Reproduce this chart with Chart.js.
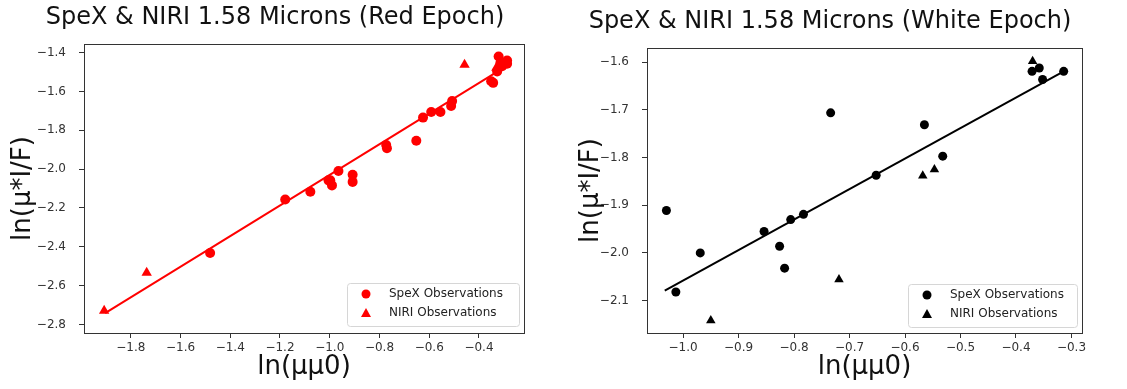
<!DOCTYPE html>
<html>
<head>
<meta charset="utf-8">
<script src="https://cdn.jsdelivr.net/npm/chart.js@4.4.0/dist/chart.umd.min.js"></script>
<style>
  html, body { margin: 0; padding: 0; background: #fff; }
  canvas { position: absolute; top: 0; }
</style>
</head>
<body>
<canvas id="redChart" width="563" height="389" style="left:0"></canvas>
<canvas id="whiteChart" width="564" height="389" style="left:563px"></canvas>
<script>
// red epoch
const redSpexX = [-1.481, -1.179, -1.078, -1.005, -0.998, -0.991, -0.965, -0.908, -0.908, -0.773, -0.770, -0.652, -0.625, -0.592, -0.555, -0.512, -0.508, -0.351, -0.343, -0.327, -0.321, -0.314, -0.307, -0.287, -0.287]
const redSpexY = [-2.432, -2.157, -2.117, -2.058, -2.058, -2.084, -2.010, -2.029, -2.066, -1.876, -1.893, -1.854, -1.735, -1.706, -1.706, -1.675, -1.650, -1.548, -1.556, -1.497, -1.420, -1.454, -1.471, -1.441, -1.458]
const redNiriX = [-1.907, -1.736, -0.458, -0.330]
const redNiriY = [-2.730, -2.534, -1.463, -1.478]
const redFitX = [-1.903, -0.290]
const redFitY = [-2.742, -1.470]
const redXTicks = [-1.8, -1.6, -1.4, -1.2, -1.0, -0.8, -0.6, -0.4]
const redYTicks = [-2.8, -2.6, -2.4, -2.2, -2.0, -1.8, -1.6, -1.4]

// white epoch
const whiteSpexX = [-1.030, -1.013, -0.969, -0.854, -0.826, -0.817, -0.806, -0.783, -0.734, -0.652, -0.565, -0.532, -0.371, -0.358, -0.352, -0.314]
const whiteSpexY = [-1.911, -2.082, -2.000, -1.955, -1.986, -2.032, -1.930, -1.919, -1.706, -1.837, -1.731, -1.797, -1.619, -1.612, -1.636, -1.619]
const whiteNiriX = [-0.950, -0.719, -0.568, -0.547, -0.370]
const whiteNiriY = [-2.142, -2.056, -1.838, -1.825, -1.598]
const whiteFitX = [-1.033, -0.314]
const whiteFitY = [-2.079, -1.619]
const whiteXTicks = [-1.0, -0.9, -0.8, -0.7, -0.6, -0.5, -0.4, -0.3]
const whiteYTicks = [-2.1, -2.0, -1.9, -1.8, -1.7, -1.6]

const FONT = "'DejaVu Sans', sans-serif"
const INK = '#333'

function pts(xs, ys) {
	return xs.map((x, i) => ({x: x, y: ys[i]}))
}

function fmt(v) {
	return v.toFixed(1).replace('-', '\u2212')
}

// box round the plot, like matplotlib spines
const framePlugin = {
	id: 'frame',
	afterDatasetsDraw(chart) {
		const a = chart.chartArea
		const ctx = chart.ctx
		ctx.save()
		ctx.strokeStyle = INK
		ctx.lineWidth = 1
		ctx.strokeRect(Math.round(a.left) + 0.5, Math.round(a.top) + 0.5, Math.round(a.right - a.left), Math.round(a.bottom - a.top))
		ctx.restore()
	}
}

// title text and legend box inside the plot
const decoPlugin = {
	id: 'deco',
	afterDraw(chart, args, opts) {
		const ctx = chart.ctx
		const a = chart.chartArea
		ctx.save()
		ctx.fillStyle = '#111'
		ctx.font = '24px ' + FONT
		ctx.textAlign = 'center'
		ctx.textBaseline = 'middle'
		ctx.fillText(opts.title, opts.titleX, opts.titleY)

		const w = opts.boxW, h = 43
		const x0 = a.right - opts.boxRight - w
		const y0 = a.bottom - opts.boxBottom - h
		ctx.beginPath()
		ctx.roundRect(x0 + 0.5, y0 + 0.5, w, h, 3)
		ctx.fillStyle = 'rgba(255,255,255,0.8)'
		ctx.fill()
		ctx.strokeStyle = '#d6d6d6'
		ctx.lineWidth = 1
		ctx.stroke()

		const rows = chart.data.datasets.filter(d => d.inLegend)
		rows.forEach((d, i) => {
			const cy = y0 + 11 + i * 19
			const mx = x0 + 19
			ctx.fillStyle = d.backgroundColor
			if (d.pointStyle === 'triangle') {
				ctx.beginPath()
				ctx.moveTo(mx, cy - 5)
				ctx.lineTo(mx + 5, cy + 4)
				ctx.lineTo(mx - 5, cy + 4)
				ctx.closePath()
				ctx.fill()
			} else {
				ctx.beginPath()
				ctx.arc(mx, cy, 4.5, 0, Math.PI * 2)
				ctx.fill()
			}
			ctx.fillStyle = '#222'
			ctx.font = '12px ' + FONT
			ctx.textAlign = 'left'
			ctx.fillText(d.label, x0 + 42, cy)
		})
		ctx.restore()
	}
}

function makeChart(canvas, c) {
	return new Chart(canvas, {
		type: 'scatter',
		data: {
			datasets: [
				{label: 'fit', data: pts(c.fitX, c.fitY), showLine: true, borderColor: c.color, borderWidth: 2, pointRadius: 0, order: 3},
				{label: 'SpeX Observations', inLegend: true, data: pts(c.spexX, c.spexY), pointStyle: 'circle', pointRadius: c.r, backgroundColor: c.color, borderWidth: 0, order: 2},
				{label: 'NIRI Observations', inLegend: true, data: pts(c.niriX, c.niriY), pointStyle: 'triangle', pointRadius: c.r + 1, backgroundColor: c.color, borderWidth: 0, order: 1}
			]
		},
		options: {
			responsive: false,
			animation: false,
			layout: {padding: {left: 0, right: c.padRight, top: c.padTop, bottom: 0}},
			plugins: {
				legend: {display: false},
				tooltip: {enabled: false},
				deco: {title: c.title, titleX: c.titleX, titleY: c.titleY, boxW: c.boxW, boxRight: c.boxRight, boxBottom: c.boxBottom}
			},
			scales: {
				x: {
					type: 'linear', min: c.xMin, max: c.xMax,
					afterBuildTicks: s => { s.ticks = c.xTicks.map(v => ({value: v})) },
					afterFit: s => { s.height = 56 },
					ticks: {callback: v => fmt(v), font: {family: FONT, size: 12}, color: INK, padding: 3, maxRotation: 0, autoSkip: false},
					grid: {display: true, drawOnChartArea: false, drawTicks: true, tickLength: 5, color: INK},
					border: {display: true, color: INK},
					title: {display: true, text: 'ln(\u03bc\u03bc0)', font: {family: FONT, size: 26}, color: '#111', padding: {top: 0, bottom: 6}}
				},
				y: {
					type: 'linear', min: c.yMin, max: c.yMax,
					afterBuildTicks: s => { s.ticks = c.yTicks.map(v => ({value: v})) },
					afterFit: s => { s.width = 84 },
					ticks: {callback: v => fmt(v), font: {family: FONT, size: 12}, color: INK, padding: 13, autoSkip: false},
					grid: {display: true, drawOnChartArea: false, drawTicks: true, tickLength: 5, color: INK},
					border: {display: true, color: INK},
					title: {display: true, text: 'ln(\u03bc*I/F)', font: {family: FONT, size: 26}, color: '#111', padding: {top: c.yTitlePad, bottom: 0}}
				}
			}
		},
		plugins: [framePlugin, decoPlugin]
	})
}

makeChart(document.getElementById('redChart'), {
	color: '#ff0000', r: 5,
	spexX: redSpexX, spexY: redSpexY, niriX: redNiriX, niriY: redNiriY, fitX: redFitX, fitY: redFitY,
	xTicks: redXTicks, yTicks: redYTicks,
	xMin: -1.988, xMax: -0.219, yMin: -2.844, yMax: -1.356,
	padRight: 39, padTop: 44, yTitlePad: 8,
	title: 'SpeX & NIRI 1.58 Microns (Red Epoch)', titleX: 275, titleY: 18,
	boxW: 172, boxRight: 5, boxBottom: 7
})

makeChart(document.getElementById('whiteChart'), {
	color: '#000000', r: 4.5,
	spexX: whiteSpexX, spexY: whiteSpexY, niriX: whiteNiriX, niriY: whiteNiriY, fitX: whiteFitX, fitY: whiteFitY,
	xTicks: whiteXTicks, yTicks: whiteYTicks,
	xMin: -1.065, xMax: -0.281, yMin: -2.168, yMax: -1.570,
	padRight: 45, padTop: 48, yTitlePad: 13,
	title: 'SpeX & NIRI 1.58 Microns (White Epoch)', titleX: 267, titleY: 22,
	boxW: 169, boxRight: 5, boxBottom: 6
})
</script>
</body>
</html>
